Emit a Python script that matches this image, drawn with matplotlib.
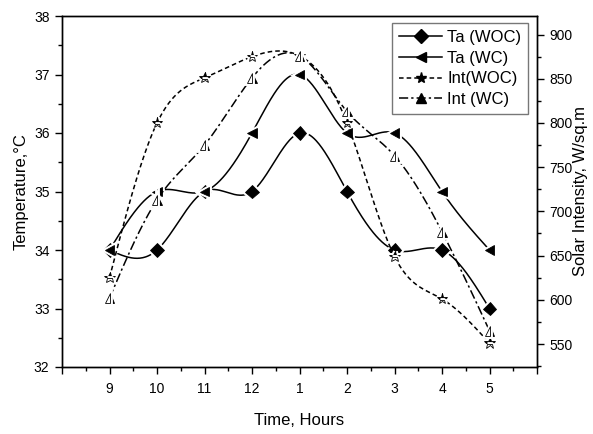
import numpy as np
import matplotlib
matplotlib.use('Agg')
import matplotlib.pyplot as plt
import matplotlib.patheffects as pe
from matplotlib.lines import Line2D
from matplotlib.ticker import MultipleLocator

plt.rcParams['font.family'] = ['Liberation Sans', 'DejaVu Sans']

# data
hours = ['9', '10', '11', '12', '1', '2', '3', '4', '5']
ta_woc = [34, 34, 35, 35, 36, 35, 34, 34, 33]
ta_wc = [34, 35, 35, 36, 37, 36, 36, 35, 34]
int_woc = [625, 800, 851, 875, 876, 800, 649, 601, 551]
int_wc = [602, 713, 775, 851, 876, 813, 763, 677, 565]


def natural_spline(x, y, n=400):
    # natural cubic spline, like Origin's "spline" connect mode
    x = np.asarray(x, float)
    y = np.asarray(y, float)
    k = len(x)
    h = np.diff(x)
    A = np.zeros((k, k))
    r = np.zeros(k)
    A[0, 0] = A[-1, -1] = 1
    for i in range(1, k - 1):
        A[i, i - 1] = h[i - 1]
        A[i, i] = 2 * (h[i - 1] + h[i])
        A[i, i + 1] = h[i]
        r[i] = 6 * ((y[i + 1] - y[i]) / h[i] - (y[i] - y[i - 1]) / h[i - 1])
    M = np.linalg.solve(A, r)
    xs = np.linspace(x[0], x[-1], n)
    j = np.clip(np.searchsorted(x, xs) - 1, 0, k - 2)
    t0 = x[j + 1] - xs
    t1 = xs - x[j]
    hj = h[j]
    ys = (M[j] * t0**3 + M[j + 1] * t1**3) / (6 * hj) \
        + (y[j] / hj - M[j] * hj / 6) * t0 + (y[j + 1] / hj - M[j + 1] * hj / 6) * t1
    return xs, ys


x = np.arange(len(hours))
halo = [pe.withStroke(linewidth=3.5, foreground='white')]

fig = plt.figure(figsize=(5.93, 4.34), dpi=100)
ax = fig.add_axes([62 / 593, 1 - 367 / 434, 475 / 593, 351 / 434])
ax2 = ax.twinx()

series = [
    (ax, ta_woc, '-', 'D', 'full', 'Ta (WOC)'),
    (ax, ta_wc, '-', '<', 'full', 'Ta (WC)'),
    (ax2, int_woc, (0, (3, 2)), '*', 'top', 'Int(WOC)'),
    (ax2, int_wc, (0, (6, 2, 1.5, 2)), '^', 'right', 'Int (WC)'),
]

handles = []
for a, vals, ls, mk, fs, lab in series:
    xs, ys = natural_spline(x, vals)
    a.plot(xs, ys, color='black', lw=1.1, linestyle=ls, zorder=2)
    ms = 8 if mk == '*' else 7
    a.plot(x, vals, linestyle='none', marker=mk, ms=ms, fillstyle=fs,
           markerfacecolor='black', markerfacecoloralt='white',
           markeredgecolor='black', markeredgewidth=0.6,
           path_effects=halo, zorder=3)
    handles.append(Line2D([], [], color='black', lw=1.1, linestyle=ls,
                          marker=mk, ms=ms, markerfacecolor='black',
                          markeredgecolor='black'))

ax.set_xlim(-1, 9)
ax.set_ylim(32, 38)
ax2.set_ylim(524, 921)

ax.set_xticks(np.arange(-1, 10))
ax.set_xticklabels([''] + hours + [''])
ax.xaxis.set_minor_locator(MultipleLocator(0.5))
ax.yaxis.set_major_locator(MultipleLocator(1))
ax.yaxis.set_minor_locator(MultipleLocator(0.5))
ax2.yaxis.set_minor_locator(MultipleLocator(25))
ax2.set_yticks(np.arange(550, 901, 50))

for a in (ax, ax2):
    a.tick_params(which='major', direction='out', length=5, width=1,
                  labelsize=10, pad=4)
    a.tick_params(which='minor', direction='out', length=3, width=1)
    for s in a.spines.values():
        s.set_linewidth(1.0)
ax.tick_params(axis='x', which='major', pad=6)
ax.tick_params(top=False, right=False, which='both')

ax.set_xlabel('Time, Hours', fontsize=12, labelpad=12)
ax.set_ylabel('Temperature,°C', fontsize=12, labelpad=4)
ax2.set_ylabel('Solar Intensity, W/sq.m', fontsize=12, labelpad=0)

leg = ax2.legend(handles, [s[5] for s in series], loc='upper right',
                 bbox_to_anchor=(0.981, 0.98), borderaxespad=0, fontsize=12,
                 frameon=True, fancybox=False, edgecolor='#555555',
                 handlelength=2.6, handletextpad=0.3, labelspacing=0.35,
                 borderpad=0.4)
leg.get_frame().set_linewidth(1.0)

fig.savefig('out.png', dpi=100)
